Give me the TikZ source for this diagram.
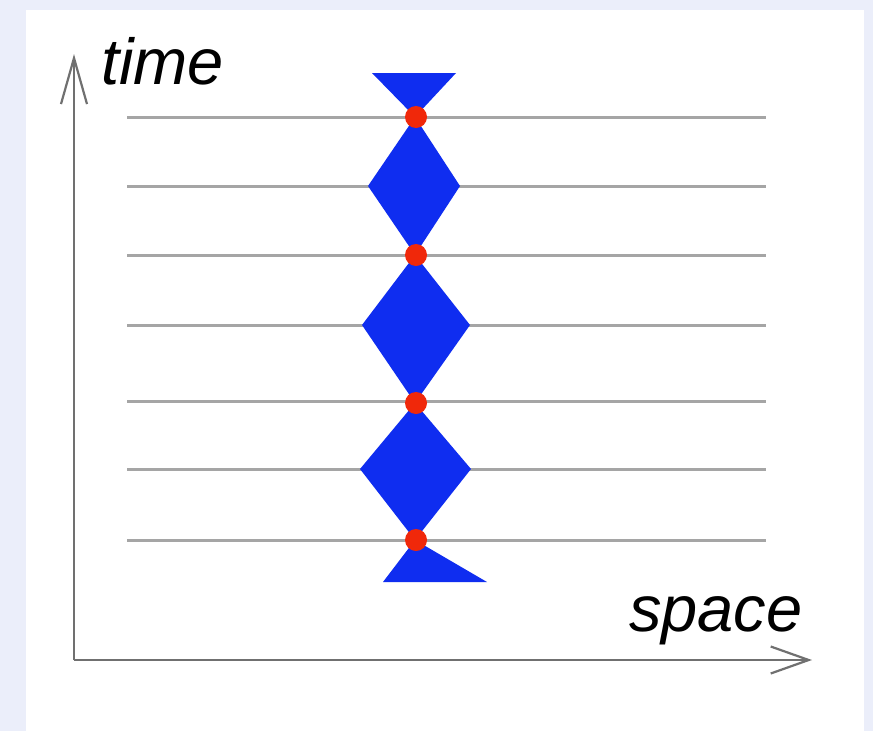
\documentclass[tikz,border=0pt]{standalone}
\usepackage{fontspec}
\setmainfont{Liberation Sans}
\usetikzlibrary{arrows.meta}
\definecolor{bgl}{RGB}{235,238,250}
\definecolor{axisgray}{RGB}{112,112,112}
\definecolor{gridgray}{RGB}{165,165,165}
\definecolor{wblue}{RGB}{15,45,240}
\definecolor{wred}{RGB}{240,40,10}
\begin{document}
\begin{tikzpicture}[x=1pt,y=-1pt,
  gridline/.style={draw=gridgray,line width=3pt},
  axisline/.style={draw=axisgray,line width=2.2pt},
  wave/.style={fill=wblue},
  event/.style={circle,fill=wred,draw=none,minimum size=22pt,inner sep=0pt},
  axlabel/.style={inner sep=0pt,font=\fontsize{65}{72}\selectfont\itshape}]
\fill[bgl] (0,0) rectangle (873,731);
\useasboundingbox (0,0) rectangle (873,731);
\fill[white] (26,10) rectangle (864,731);
% grid lines
\foreach \y in {117,186,255,325,401,469,540}
  \draw[gridline] (127,\y) -- (766,\y);
% blue wave shapes
\fill[wave] (372,73) -- (456,73) -- (415,117) -- cycle;
\fill[wave] (415,117) -- (460,186) -- (415,255) -- (368,186) -- cycle;
\fill[wave] (415,255) -- (470,325) -- (415,403) -- (362,325) -- cycle;
\fill[wave] (415,403) -- (471,469) -- (415,540) -- (360,469) -- cycle;
\fill[wave] (415,540) -- (487,582) -- (383,582) -- cycle;
% events
\node[event] (d1) at (416,117) {};
\node[event] (d2) at (416,255) {};
\node[event] (d3) at (416,403) {};
\node[event] (d4) at (416,540) {};
% axes
\coordinate (origin) at (74,660);
\coordinate (ytip) at (74,54);
\coordinate (xtip) at (812,660);
\draw[axisline,-{Straight Barb[length=46pt,width=26pt,line width=2.2pt]}] (origin) -- (ytip);
\draw[axisline,-{Straight Barb[length=38pt,width=27pt,line width=2.2pt]}] (origin) -- (xtip);
\node[axlabel,anchor=base west] (tlabel) at (101,84) {time};
\node[axlabel,anchor=base west] (slabel) at (629,631) {space};
\end{tikzpicture}
\end{document}
